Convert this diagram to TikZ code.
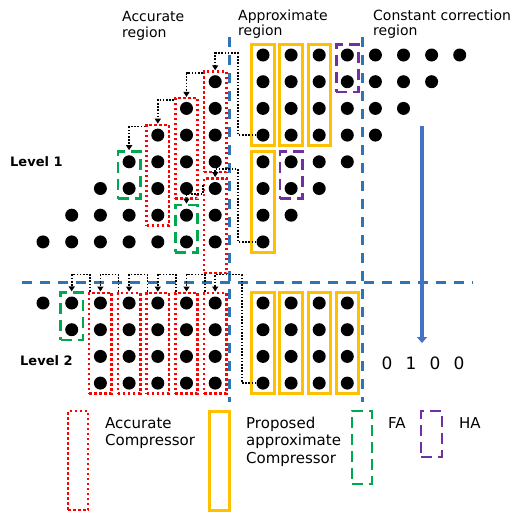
\documentclass[tikz,border=0pt]{standalone}
\usepackage{fontspec}
\setmainfont{DejaVu Sans}
\usetikzlibrary{fit,arrows.meta,calc}
\definecolor{cblue}{RGB}{46,117,182}
\definecolor{carrow}{RGB}{68,114,196}
\definecolor{corange}{RGB}{255,192,0}
\definecolor{cred}{RGB}{255,0,0}
\definecolor{cgreen}{RGB}{0,168,80}
\definecolor{cpurple}{RGB}{112,48,160}
\begin{document}
\begin{tikzpicture}[x=1pt,y=-1pt,
 dot/.style={circle,fill=black,inner sep=0pt,minimum size=13pt},
 boxbase/.style={rectangle,inner xsep=4.5pt,inner ysep=3.5pt},
 accbox/.style={boxbase,draw=cred,line width=2.5pt,dash pattern=on 2.5pt off 2.5pt},
 apxbox/.style={boxbase,draw=corange,line width=3pt},
 fabox/.style={boxbase,draw=cgreen,line width=2.8pt,dash pattern=on 11pt off 6pt},
 habox/.style={boxbase,draw=cpurple,line width=2.8pt,dash pattern=on 11pt off 6pt},
 carry/.style={draw=black,line width=1.6pt,dash pattern=on 1.6pt off 1.6pt,-{Triangle[width=6pt,length=5pt]}},
 regionline/.style={draw=cblue,line width=3pt,dash pattern=on 10pt off 8pt},
 lbl/.style={font=\fontsize{14}{15.5}\selectfont,align=left,anchor=base west,inner sep=0pt},
 leg/.style={font=\fontsize{15}{17.5}\selectfont,align=left,anchor=base west,inner sep=0pt},
 lvl/.style={font=\fontsize{13}{15}\selectfont\bfseries,anchor=base west,inner sep=0pt},
 digit/.style={font=\fontsize{17}{19}\selectfont,inner sep=0pt},
 legbox/.style={rectangle,inner sep=0pt,minimum width=20pt}
]
\useasboundingbox (0,0) rectangle (521,512);

% region separators
\coordinate (v1t) at (229,37); \coordinate (v1b) at (229,402);
\coordinate (v2t) at (362,37); \coordinate (v2b) at (362,402);
\coordinate (hl) at (22,282);  \coordinate (hr) at (473,282);
\draw[regionline] (v1t) -- (v1b);
\draw[regionline] (v2t) -- (v2b);
\draw[regionline] (hl) -- (hr);

% Level 1 dots
\foreach \r in {0,...,7}{
  \pgfmathtruncatemacro\cs{7-\r}
  \pgfmathtruncatemacro\ce{14-\r}
  \foreach \c in {\cs,...,\ce}{
    \pgfmathsetmacro\xx{\c<7 ? 43+28.7*\c : 263+28.1*(\c-7)}
    \node[dot] (A-\r-\c) at (\xx,55+26.7*\r) {};
  }
}
% Level 2 dots
\foreach \r/\cs in {0/0,1/1,2/2,3/2}{
  \foreach \c in {\cs,...,10}{
    \pgfmathsetmacro\xx{\c<7 ? 43+28.7*\c : 263+28.1*(\c-7)}
    \node[dot] (B-\r-\c) at (\xx,303+26.7*\r) {};
  }
}

% Level 1 boxes
\node[apxbox,fit=(A-0-7)(A-3-7)] (P1) {};
\node[apxbox,fit=(A-0-8)(A-3-8)] (P2) {};
\node[apxbox,fit=(A-0-9)(A-3-9)] (P3) {};
\node[apxbox,fit=(A-4-7)(A-7-7)] (P4) {};
\node[habox,fit=(A-0-10)(A-1-10)] (H1) {};
\node[habox,fit=(A-4-8)(A-5-8)] (H2) {};
\node[accbox,fit=(A-1-6)(A-4-6)] (R1) {};
\node[accbox,fit=(A-2-5)(A-5-5)] (R2) {};
\node[accbox,fit=(A-3-4)(A-6-4)] (R3) {};
\coordinate (R4end) at (215.2,269.5);
\node[accbox,fit=(A-5-6)(R4end)] (R4) {};
\node[fabox,fit=(A-4-3)(A-5-3)] (G1) {};
\node[fabox,fit=(A-6-5)(A-7-5)] (G2) {};

% Level 2 boxes
\node[fabox,fit=(B-0-1)(B-1-1)] (G3) {};
\foreach \c in {2,...,6}{ \node[accbox,fit=(B-0-\c)(B-3-\c)] (S\c) {}; }
\foreach \c in {7,...,10}{ \node[apxbox,fit=(B-0-\c)(B-3-\c)] (Q\c) {}; }

% Level 1 carries
\draw[carry] (A-3-7.west) -- ++(-18.5,0) |- ([yshift=17pt]R1.north) -- (R1.north);
\draw[carry] (A-7-7.west) -- ++(-18.5,0) |- ([yshift=8pt]R4.north) -- (R4.north);
\draw[carry] ([yshift=-3pt]R1.north west) -| (R2.north);
\draw[carry] ([yshift=-3pt]R2.north west) -| (R3.north);
\draw[carry] ([yshift=-3pt]R3.north west) -| (G1.north);
\draw[carry] ([yshift=-8pt]R4.north west) -- ++(0,9) -| (G2.north);

% Level 2 carries
\draw[carry] (B-3-7.west) -- ++(-14.5,0) |- ([yshift=17pt]S6.north) -- (S6.north);
\foreach \c/\p in {6/5,5/4,4/3,3/2}{
  \draw[carry] ([xshift=2pt]S\c.north west) -- ++(0,-17) -| (S\p.north);
}
\draw[carry] ([xshift=2pt]S2.north west) -- ++(0,-17) -| (G3.north);

% final adder arrow and result
\coordinate (arrtop) at (422,126);
\coordinate (arrbot) at (422,343);
\draw[carrow,line width=4.5pt,-{Triangle[width=10pt,length=6pt]}] (arrtop) -- (arrbot);
\node[digit] (d1) at (387,363) {0};
\node[digit] (d2) at (411,363) {1};
\node[digit] (d3) at (435,363) {0};
\node[digit] (d4) at (459,363) {0};

% labels (base anchor = last line)
\node[lbl] (tacc) at (122,37) {Accurate\\region};
\node[lbl] (tapx) at (238,35.5) {Approximate\\region};
\node[lbl] (tcon) at (373,35.5) {Constant correction\\region};
\node[lvl] (lv1) at (10,166) {Level 1};
\node[lvl] (lv2) at (20,365) {Level 2};

% legend
\node[legbox,draw=cred,line width=2.5pt,dash pattern=on 2.5pt off 2.5pt,minimum height=99pt] (k1) at (78,460.5) {};
\node[legbox,draw=corange,line width=3pt,minimum height=99pt] (k2) at (219,460.5) {};
\node[legbox,draw=cgreen,line width=2.8pt,dash pattern=on 11pt off 6pt,minimum height=73pt] (k3) at (362,447.5) {};
\node[legbox,draw=cpurple,line width=2.8pt,dash pattern=on 11pt off 6pt,minimum height=46pt,minimum width=21pt] (k4) at (431.5,434) {};
\node[leg] (t1) at (105,445.5) {Accurate\\Compressor};
\node[leg] (t2) at (246,463) {Proposed\\approximate\\Compressor};
\node[leg] (t3) at (388,428) {FA};
\node[leg] (t4) at (459,428) {HA};
\end{tikzpicture}
\end{document}
